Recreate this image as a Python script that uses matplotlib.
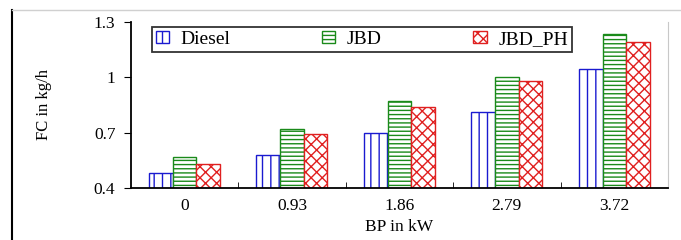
import numpy as np
import matplotlib.pyplot as plt
from matplotlib.lines import Line2D

# Data
bp = ["0", "0.93", "1.86", "2.79", "3.72"]
diesel = [0.48, 0.58, 0.70, 0.81, 1.045]
jbd = [0.57, 0.72, 0.87, 1.00, 1.235]
jbd_ph = [0.53, 0.69, 0.84, 0.98, 1.19]

plt.rcParams['font.family'] = ['Liberation Serif', 'DejaVu Serif']
plt.rcParams['hatch.linewidth'] = 1.0

fig = plt.figure(figsize=(6.81, 2.4), dpi=100)
ax = fig.add_axes([0.192, 0.217, 0.789, 0.691])

x = np.arange(len(bp))
w = 0.22
ax.bar(x - w, diesel, w, color='white', edgecolor='#1a1ad0',
       hatch='||', linewidth=1.0, label='Diesel')
ax.bar(x, jbd, w, color='white', edgecolor='#1a8a1a',
       hatch='----', linewidth=1.0, label='JBD')
ax.bar(x + w, jbd_ph, w, color='white', edgecolor='#e02020',
       hatch='xxx', linewidth=1.0, label='JBD_PH')

ax.set_ylim(0.4, 1.3)
ax.set_yticks([0.4, 0.7, 1.0, 1.3])
ax.set_yticklabels(["0.4", "0.7", "1", "1.3"], fontsize=12.5)
ax.set_xlim(-0.5, len(bp) - 0.5)
ax.set_xticks(x)
ax.set_xticklabels(bp, fontsize=12.5)
ax.tick_params(axis='x', length=0, pad=7)
ax.set_xticks(np.arange(0.5, len(bp) - 0.5, 1.0), minor=True)
ax.tick_params(axis='x', which='minor', length=4, direction='in')
ax.tick_params(axis='y', length=5, direction='out', pad=6)

ax.spines['top'].set_visible(False)
ax.spines['right'].set_color('#c8c8c8')
ax.spines['left'].set_linewidth(1.3)
ax.spines['bottom'].set_linewidth(1.3)

ax.set_ylabel("FC in kg/h", fontsize=12, labelpad=30)
ax.set_xlabel("BP in kW", fontsize=12.5, labelpad=4)

leg = ax.legend(loc='upper left', bbox_to_anchor=(0.039, 0.97, 0.782, 0), mode='expand',
                ncol=3, frameon=True, fancybox=False, edgecolor='black',
                prop={'family': 'Liberation Serif', 'size': 14},
                handlelength=0.7, handleheight=0.55,
                borderpad=0.2, handletextpad=0.6, borderaxespad=0)
leg.get_frame().set_linewidth(1.3)

# outer frame pieces
fig.add_artist(Line2D([0.018, 0.018], [0.0, 0.96], color='black', lw=1.5))
fig.add_artist(Line2D([0.018, 1.0], [0.96, 0.96], color='#d0d0d0', lw=1.0))

fig.savefig("out.png", dpi=100)
